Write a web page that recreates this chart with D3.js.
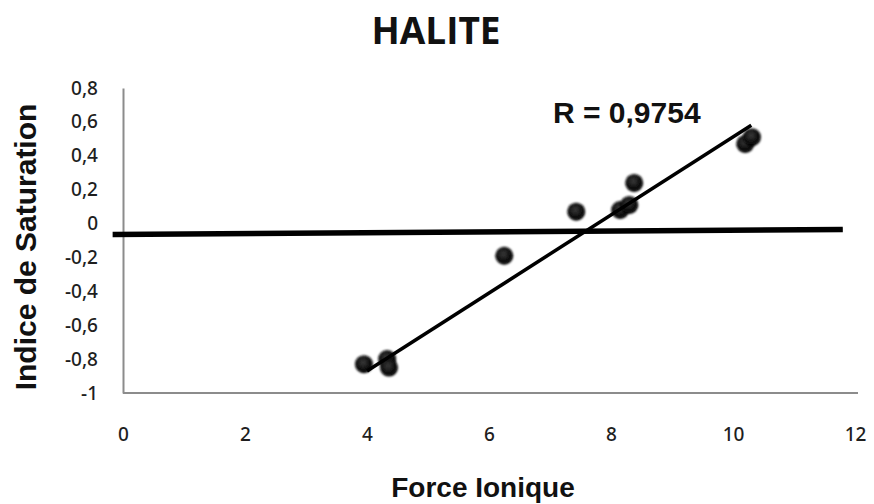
<!DOCTYPE html>
<html>
<head>
<meta charset="utf-8">
<script src="https://cdn.jsdelivr.net/npm/d3@7"></script>
<style>
  html, body { margin: 0; padding: 0; background: #fff; }
  svg { display: block; }
</style>
</head>
<body>
<svg id="chart" width="874" height="504"></svg>
<script>
// Ionic strength vs. halite saturation index
const forceIonique = [3.95, 4.33, 4.36, 6.25, 7.43, 8.15, 8.30, 8.38, 10.20, 10.31];
const indiceSaturation = [-0.83, -0.80, -0.85, -0.19, 0.07, 0.08, 0.11, 0.24, 0.47, 0.51];

// Fitted trend line endpoints
const trendX = [4.0, 10.3];
const trendY = [-0.87, 0.58];

// Equilibrium reference line
const refX = [-0.17, 11.8];
const refY = [-0.065, -0.035];

const xTicks = [0, 2, 4, 6, 8, 10, 12];
const yTicks = [-1, -0.8, -0.6, -0.4, -0.2, 0, 0.2, 0.4, 0.6, 0.8];

const title = "HALITE";
const xTitle = "Force Ionique";
const yTitle = "Indice de Saturation";
const rLabel = "R = 0,9754";

const svg = d3.select("#chart");

const x = d3.scaleLinear().domain([0, 12]).range([123, 855]);
const y = d3.scaleLinear().domain([-1, 0.8]).range([393, 88]);

const fmt = v => (v === 0 ? "0" : String(Math.round(v * 10) / 10).replace(".", ","));

// Axes (lines only, no tick marks)
const yAxis = d3.axisLeft(y).tickValues(yTicks).tickSize(0).tickPadding(25).tickFormat(fmt);
const xAxis = d3.axisBottom(x).tickValues(xTicks).tickSize(0).tickPadding(35).tickFormat(d3.format("d"));

const gy = svg.append("g").attr("transform", `translate(${x(0)},0)`).call(yAxis);
const gx = svg.append("g").attr("transform", `translate(0,${y(-1)})`).call(xAxis);

[gx, gy].forEach(g => {
  g.select(".domain").attr("stroke", "#8c8c8c").attr("stroke-width", 2);
  g.selectAll("text")
    .attr("font-family", "'Noto Sans', 'Open Sans', sans-serif")
    .attr("font-size", 19)
    .attr("font-weight", 500)
    .attr("fill", "#1e1e1e");
});
gx.select(".domain").attr("d", `M${x(0)},0H${x(12) + 3}`);

// Marker styling
const defs = svg.append("defs");
const grad = defs.append("radialGradient").attr("id", "ball").attr("cx", "45%").attr("cy", "40%").attr("r", "60%");
grad.append("stop").attr("offset", "0%").attr("stop-color", "#3a3a3a");
grad.append("stop").attr("offset", "60%").attr("stop-color", "#111");
grad.append("stop").attr("offset", "100%").attr("stop-color", "#000");
const soft = defs.append("filter").attr("id", "soft").attr("x", "-50%").attr("y", "-50%").attr("width", "200%").attr("height", "200%");
soft.append("feGaussianBlur").attr("stdDeviation", 1.3);

// Reference line
svg.append("line")
  .attr("x1", x(refX[0])).attr("y1", y(refY[0]))
  .attr("x2", x(refX[1])).attr("y2", y(refY[1]))
  .attr("stroke", "#000").attr("stroke-width", 5.5);

// Points
svg.append("g").selectAll("circle")
  .data(forceIonique.map((v, i) => [v, indiceSaturation[i]]))
  .join("circle")
  .attr("cx", d => x(d[0]))
  .attr("cy", d => y(d[1]))
  .attr("r", 9)
  .attr("fill", "url(#ball)")
  .attr("filter", "url(#soft)");

// Trend line
svg.append("line")
  .attr("x1", x(trendX[0])).attr("y1", y(trendY[0]))
  .attr("x2", x(trendX[1])).attr("y2", y(trendY[1]))
  .attr("stroke", "#000").attr("stroke-width", 3.5);

// Titles
svg.append("text")
  .attr("x", 436).attr("y", 44)
  .attr("text-anchor", "middle")
  .attr("font-family", "'Open Sans', sans-serif")
  .attr("font-weight", "bold")
  .attr("font-size", 37)
  .attr("fill", "#111")
  .text(title);

svg.append("text")
  .attr("x", 483).attr("y", 497)
  .attr("text-anchor", "middle")
  .attr("font-family", "'Liberation Sans', Arial, sans-serif")
  .attr("font-weight", "bold")
  .attr("font-size", 28)
  .attr("fill", "#111")
  .text(xTitle);

svg.append("text")
  .attr("transform", "translate(36,247) rotate(-90)")
  .attr("text-anchor", "middle")
  .attr("font-family", "'Liberation Sans', Arial, sans-serif")
  .attr("font-weight", "bold")
  .attr("font-size", 30)
  .attr("fill", "#111")
  .text(yTitle);

svg.append("text")
  .attr("x", 553).attr("y", 123)
  .attr("font-family", "'Liberation Sans', Arial, sans-serif")
  .attr("font-weight", "bold")
  .attr("font-size", 30)
  .attr("fill", "#111")
  .text(rLabel);
</script>
</body>
</html>
